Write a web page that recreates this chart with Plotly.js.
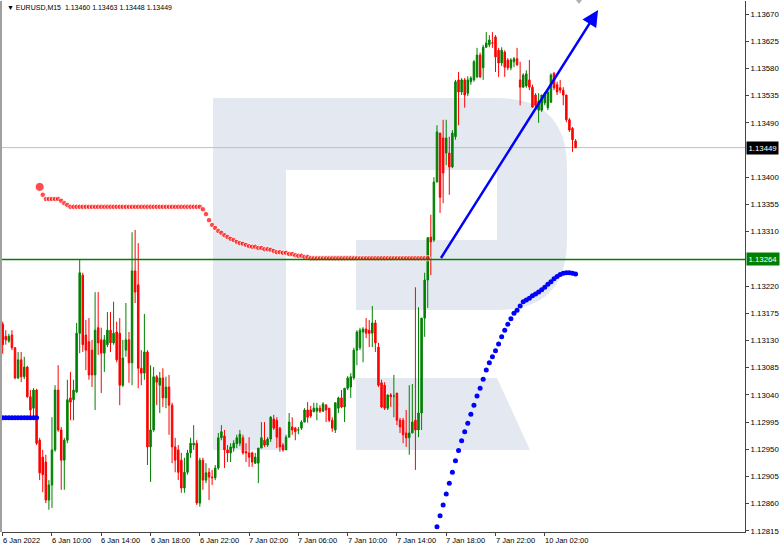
<!DOCTYPE html>
<html><head><meta charset="utf-8">
<script src="https://cdn.plot.ly/plotly-3.0.1.min.js"></script>
<style>html,body{margin:0;padding:0;background:#fff}#chart{width:782px;height:549px}</style>
</head><body><div id="chart"></div>
<script>
// ---- data ----
const open=[
1.13157,1.13137,1.13129,1.13139,1.13118,1.13068,1.13098,1.13070,1.13086,1.13037,
1.13018,1.13048,1.12965,1.12937,1.12929,1.12866,1.12891,1.12949,1.13048,1.12982,
1.12932,1.12965,1.13035,1.13032,1.13045,1.13142,1.13238,1.13139,1.13128,1.13114,
1.13073,1.13151,1.13131,1.13109,1.13123,1.13147,1.13126,1.13144,1.13142,1.13056,
1.13114,1.13131,1.13093,1.13245,1.13222,1.13084,1.13076,1.13111,1.12954,1.12982,
1.13070,1.13056,1.13068,1.13035,1.13053,1.13023,1.12954,1.12949,1.12932,1.12886,
1.12912,1.12944,1.12957,1.12960,1.12861,1.12932,1.12899,1.12912,1.12904,1.12903,
1.12919,1.12969,1.12972,1.12949,1.12944,1.12952,1.12959,1.12960,1.12969,1.12946,
1.12944,1.12944,1.12927,1.12927,1.12952,1.12965,1.12957,1.12967,1.13000,1.12998,
1.12985,1.12957,1.12949,1.12970,1.12987,1.12985,1.12982,1.12985,1.12995,1.13015,
1.13015,1.13012,1.13013,1.13018,1.13013,1.13023,1.13018,1.12998,1.12982,1.13018,
1.13035,1.13020,1.13051,1.13053,1.13068,1.13114,1.13118,1.13144,1.13149,1.13147,
1.13142,1.13159,1.13119,1.13060,1.13056,1.13018,1.13040,1.13038,1.13043,1.12998,
1.12998,1.12977,1.12969,1.12977,1.12998,1.12982,1.13010,1.13167,1.13230,1.13301,
1.13296,1.13392,1.13473,1.13465,1.13440,1.13440,1.13417,1.13467,1.13561,1.13541,
1.13561,1.13539,1.13558,1.13561,1.13566,1.13602,1.13581,1.13615,1.13619,1.13622,
1.13632,1.13610,1.13589,1.13607,1.13594,1.13581,1.13591,1.13596,1.13561,1.13549,
1.13551,1.13561,1.13549,1.13536,1.13511,1.13511,1.13523,1.13515,1.13524,1.13572,
1.13553,1.13548,1.13544,1.13536,1.13495,1.13481,1.13460];
const high=[
1.13161,1.13147,1.13141,1.13147,1.13119,1.13111,1.13111,1.13103,1.13088,1.13048,
1.13051,1.13050,1.12969,1.12949,1.12941,1.12899,1.13003,1.13056,1.13089,1.12987,
1.12969,1.13065,1.13078,1.13065,1.13159,1.13263,1.13242,1.13164,1.13167,1.13131,
1.13210,1.13210,1.13151,1.13139,1.13177,1.13177,1.13194,1.13161,1.13167,1.13131,
1.13192,1.13144,1.13309,1.13313,1.13291,1.13114,1.13174,1.13114,1.13089,1.13086,
1.13073,1.13078,1.13084,1.13070,1.13073,1.13027,1.12969,1.12957,1.12944,1.12936,
1.12949,1.12969,1.12990,1.12965,1.12936,1.12936,1.12927,1.12919,1.12916,1.12924,
1.12977,1.12990,1.12982,1.12957,1.12960,1.12965,1.12974,1.12982,1.12974,1.12960,
1.12970,1.12946,1.12944,1.12952,1.12995,1.12995,1.12970,1.13005,1.13007,1.13003,
1.12987,1.12960,1.12974,1.13010,1.13003,1.12987,1.12987,1.12998,1.13018,1.13028,
1.13022,1.13027,1.13027,1.13023,1.13028,1.13025,1.13018,1.13003,1.13027,1.13037,
1.13048,1.13051,1.13071,1.13076,1.13118,1.13147,1.13151,1.13152,1.13167,1.13164,
1.13187,1.13164,1.13126,1.13065,1.13061,1.13040,1.13043,1.13073,1.13043,1.13002,
1.13002,1.13015,1.13056,1.13058,1.13218,1.13185,1.13167,1.13242,1.13301,1.13338,
1.13400,1.13486,1.13473,1.13495,1.13495,1.13467,1.13478,1.13561,1.13574,1.13564,
1.13564,1.13567,1.13567,1.13594,1.13614,1.13606,1.13619,1.13640,1.13635,1.13640,
1.13635,1.13614,1.13615,1.13610,1.13597,1.13597,1.13599,1.13614,1.13591,1.13572,
1.13577,1.13594,1.13553,1.13539,1.13539,1.13536,1.13541,1.13544,1.13572,1.13574,
1.13558,1.13561,1.13549,1.13536,1.13498,1.13483,1.13463];
const low=[
1.13108,1.13123,1.13126,1.13114,1.13066,1.13066,1.13061,1.13066,1.13035,1.13005,
1.13003,1.12957,1.12899,1.12879,1.12861,1.12850,1.12853,1.12946,1.12979,1.12883,
1.12883,1.12960,1.12998,1.12998,1.13043,1.13109,1.13111,1.13081,1.13065,1.13053,
1.13015,1.13106,1.13043,1.13078,1.13119,1.13111,1.13123,1.13094,1.13023,1.13053,
1.13103,1.13060,1.13056,1.13192,1.13051,1.13056,1.13065,1.12924,1.12896,1.12979,
1.13023,1.13010,1.13020,1.13018,1.12974,1.12927,1.12912,1.12899,1.12878,1.12878,
1.12908,1.12936,1.12949,1.12858,1.12855,1.12883,1.12894,1.12866,1.12891,1.12899,
1.12916,1.12965,1.12919,1.12929,1.12929,1.12946,1.12952,1.12955,1.12941,1.12929,
1.12921,1.12921,1.12926,1.12894,1.12952,1.12954,1.12954,1.12962,1.12982,1.12952,
1.12946,1.12946,1.12949,1.12970,1.12974,1.12965,1.12975,1.12982,1.12995,1.12994,
1.13002,1.13012,1.12998,1.13010,1.13012,1.12995,1.12995,1.12979,1.12977,1.13010,
1.13018,1.12995,1.13048,1.13035,1.13065,1.13089,1.13114,1.13094,1.13134,1.13119,
1.13119,1.13111,1.13053,1.13018,1.13015,1.13015,1.13020,1.13003,1.12990,1.12977,
1.12960,1.12954,1.12941,1.12977,1.12916,1.12970,1.12982,1.13136,1.13184,1.13238,
1.13293,1.13392,1.13341,1.13357,1.13420,1.13371,1.13415,1.13462,1.13486,1.13536,
1.13515,1.13534,1.13553,1.13558,1.13564,1.13564,1.13561,1.13614,1.13615,1.13614,
1.13574,1.13566,1.13584,1.13566,1.13577,1.13577,1.13582,1.13584,1.13519,1.13548,
1.13548,1.13544,1.13515,1.13516,1.13490,1.13508,1.13519,1.13511,1.13523,1.13544,
1.13536,1.13539,1.13519,1.13491,1.13475,1.13442,1.13448];
const close=[
1.13123,1.13131,1.13137,1.13118,1.13068,1.13098,1.13070,1.13086,1.13037,1.13015,
1.13048,1.12960,1.12911,1.12908,1.12866,1.12891,1.12949,1.13048,1.12982,1.12932,
1.12965,1.13032,1.13028,1.13048,1.13142,1.13242,1.13123,1.13114,1.13073,1.13073,
1.13147,1.13126,1.13109,1.13131,1.13147,1.13126,1.13142,1.13098,1.13056,1.13101,
1.13131,1.13093,1.13245,1.13210,1.13084,1.13076,1.13111,1.12954,1.12982,1.13070,
1.13061,1.13068,1.13035,1.13053,1.13023,1.12954,1.12932,1.12912,1.12886,1.12912,
1.12944,1.12960,1.12960,1.12861,1.12932,1.12899,1.12911,1.12904,1.12903,1.12919,
1.12969,1.12979,1.12949,1.12944,1.12954,1.12960,1.12969,1.12975,1.12944,1.12944,
1.12937,1.12929,1.12937,1.12952,1.12969,1.12957,1.12967,1.13003,1.12985,1.12970,
1.12954,1.12949,1.12970,1.12995,1.12982,1.12979,1.12982,1.12995,1.13015,1.13003,
1.13005,1.13018,1.13018,1.13013,1.13025,1.13015,1.12998,1.12985,1.13027,1.13035,
1.13020,1.13051,1.13068,1.13070,1.13114,1.13144,1.13147,1.13149,1.13142,1.13142,
1.13159,1.13126,1.13056,1.13020,1.13018,1.13040,1.13037,1.13038,1.12998,1.12987,
1.12974,1.12969,1.12977,1.12995,1.12982,1.13010,1.13167,1.13230,1.13300,1.13293,
1.13392,1.13475,1.13367,1.13407,1.13465,1.13417,1.13473,1.13558,1.13541,1.13561,
1.13536,1.13561,1.13564,1.13591,1.13602,1.13566,1.13615,1.13622,1.13627,1.13622,
1.13599,1.13589,1.13610,1.13582,1.13581,1.13594,1.13596,1.13586,1.13549,1.13569,
1.13571,1.13549,1.13516,1.13519,1.13526,1.13536,1.13539,1.13541,1.13569,1.13548,
1.13541,1.13544,1.13536,1.13495,1.13478,1.13462,1.13449];

const tickIdx=[0,16,32,48,64,80,96,112,128,144,160,176];
const tickText=["6 Jan 2022","6 Jan 10:00","6 Jan 14:00","6 Jan 18:00","6 Jan 22:00","7 Jan 02:00","7 Jan 06:00","7 Jan 10:00","7 Jan 14:00","7 Jan 18:00","7 Jan 22:00","10 Jan 02:00"];
const yTicks=[1.13670,1.13625,1.13580,1.13535,1.13490,1.13400,1.13355,1.13310,1.13220,1.13175,1.13130,1.13085,1.13040,1.12995,1.12950,1.12905,1.12860,1.12815];

const sarBlueLeftStart=0;
const sarBlueLeft=[1.13002,1.13002,1.13002,1.13002,1.13002,1.13002,1.13002,1.13002,1.13002,1.13002,1.13002,1.13002];
const sarRedStart=12;
const sarRed=[1.13384,1.13371,1.13364,1.13364,1.13364,1.13364,1.13364,1.13361,1.13357,1.13354,
1.13351,1.13351,1.13351,1.13351,1.13351,1.13351,1.13351,1.13351,1.13351,1.13351,
1.13351,1.13351,1.13351,1.13351,1.13351,1.13351,1.13351,1.13351,1.13351,1.13351,
1.13351,1.13351,1.13351,1.13351,1.13351,1.13351,1.13351,1.13351,1.13351,1.13351,
1.13351,1.13351,1.13351,1.13351,1.13351,1.13351,1.13351,1.13351,1.13351,1.13351,
1.13351,1.13351,1.13351,
1.13347,1.13339,1.13329,1.13321,1.13316,1.13311,1.13308,1.13304,1.13301,1.13298,
1.13296,1.13293,1.13291,1.13290,1.13288,1.13286,1.13285,1.13285,1.13283,1.13283,
1.13281,1.13281,1.13280,1.13278,1.13276,1.13276,1.13275,1.13275,1.13273,1.13273,
1.13271,1.13270,1.13270,1.13268,1.13268,
1.13266,1.13266,1.13266,1.13266,1.13266,1.13266,1.13266,1.13266,1.13266,1.13266,
1.13266,1.13266,1.13266,1.13266,1.13266,1.13266,1.13266,1.13266,1.13266,1.13266,
1.13266,1.13266,1.13266,1.13266,1.13266,1.13266,1.13266,1.13266,1.13266,1.13266,
1.13266,1.13266,1.13266,1.13266,1.13266,1.13266,1.13266,1.13266,1.13266];
const sarBlueRightStart=141;
const sarBlueRight=[1.12822,1.12840,1.12858,1.12876,1.12894,1.12912,1.12931,1.12948,1.12964,1.12979,
1.12993,1.13008,1.13023,1.13038,1.13051,1.13066,1.13081,1.13093,1.13103,1.13113,
1.13124,1.13136,1.13147,1.13157,1.13166,1.13175,1.13180,1.13187,1.13194,1.13197,
1.13200,1.13204,1.13207,1.13210,1.13214,1.13218,1.13223,1.13227,1.13232,1.13236,
1.13239,1.13241,1.13242,1.13242,1.13241,1.13240];

const lastPrice=1.13449, levelPrice=1.13264;
const headerText="▼ EURUSD,M15  1.13460 1.13463 1.13448 1.13449";
const trendFrom={i:142, p:1.13264}, trendTo={i:193.3, p:1.136766};

// ---- layout geometry ----
const W=782,H=549,M={l:2,r:37,t:1,b:17};
const PW=W-M.l-M.r, PH=H-M.t-M.b;
function P(x,y){return ((x-M.l)/PW).toFixed(5)+','+((H-M.b-y)/PH).toFixed(5);}
const wm='#e4e9f1';
const idx=open.map((_,i)=>i);
const seq=(s,a)=>a.map((_,k)=>s+k);

const traces=[
 {type:'candlestick',x:idx,open:open,high:high,low:low,close:close,
  increasing:{line:{color:'#008000',width:1},fillcolor:'#008000'},
  decreasing:{line:{color:'#ff0000',width:1},fillcolor:'#ff0000'},
  whiskerwidth:0,hoverinfo:'skip',showlegend:false},
 {type:'scatter',mode:'markers',x:seq(sarBlueLeftStart,sarBlueLeft),y:sarBlueLeft,
  marker:{color:'#0000ff',size:5},hoverinfo:'skip',showlegend:false},
 {type:'scatter',mode:'markers',x:seq(sarRedStart,sarRed),y:sarRed,
  marker:{color:'#ff0000',size:sarRed.map((_,k)=>k===0?9:5.5)},hoverinfo:'skip',showlegend:false},
 {type:'scatter',mode:'markers',x:seq(sarBlueRightStart,sarBlueRight),y:sarBlueRight,
  marker:{color:'#0000ff',size:5},hoverinfo:'skip',showlegend:false}
];

const shapes=[
 {type:'path',xref:'paper',yref:'paper',layer:'below',fillcolor:wm,line:{width:0},
  path:'M'+P(213,98)+' L'+P(286,98)+' L'+P(286,450)+' L'+P(213,450)+' Z'},
 {type:'path',xref:'paper',yref:'paper',layer:'below',fillcolor:wm,line:{width:0},
  path:'M'+P(213,98)+' L'+P(497,98)+' Q'+P(567,98)+' '+P(567,168)+' L'+P(567,240)+' Q'+P(567,310)+' '+P(497,310)+' L'+P(356,310)+' L'+P(356,240)+' L'+P(497,240)+' L'+P(497,170)+' L'+P(213,170)+' Z'},
 {type:'path',xref:'paper',yref:'paper',layer:'below',fillcolor:wm,line:{width:0},
  path:'M'+P(356,378)+' L'+P(497,378)+' L'+P(530,450)+' L'+P(356,450)+' Z'},
 {type:'line',xref:'paper',yref:'y',x0:0,x1:1,y0:lastPrice,y1:lastPrice,line:{color:'#c0c0c0',width:1},layer:'below'},
 {type:'line',xref:'paper',yref:'y',x0:0,x1:1,y0:levelPrice,y1:levelPrice,line:{color:'#008000',width:1.5}},
 {type:'rect',xref:'paper',yref:'paper',x0:-2/PW,x1:0,y0:0,y1:1,fillcolor:'#a0a0a0',line:{width:0}},
 {type:'path',xref:'paper',yref:'paper',fillcolor:'#b0b0b0',line:{width:0},
  path:'M'+P(576,0)+' L'+P(582,0)+' L'+P(579,4)+' Z'}
];

const font='Liberation Sans, Arial, sans-serif';
const annotations=[
 {xref:'paper',yref:'paper',x:0,y:1,xanchor:'left',yanchor:'top',xshift:3,yshift:-1,
  text:headerText,showarrow:false,font:{family:font,size:7,color:'#000'}},
 {xref:'x',yref:'y',x:trendTo.i,y:trendTo.p,axref:'x',ayref:'y',ax:trendFrom.i,ay:trendFrom.p,
  text:'',showarrow:true,arrowhead:2,arrowsize:1.3,arrowwidth:2.5,arrowcolor:'#0000ff',standoff:0},
 {xref:'paper',yref:'y',x:1,y:lastPrice,xanchor:'left',xshift:1,text:lastPrice.toFixed(5),showarrow:false,
  bgcolor:'#000000',borderpad:1.5,font:{family:font,size:7.8,color:'#ffffff'}},
 {xref:'paper',yref:'y',x:1,y:levelPrice,xanchor:'left',xshift:1,text:levelPrice.toFixed(5),showarrow:false,
  bgcolor:'#008000',borderpad:1.5,font:{family:font,size:7.8,color:'#ffffff'}}
];
tickIdx.forEach((t,k)=>annotations.push({xref:'x',yref:'paper',x:t,y:0,xanchor:'left',yanchor:'top',
  xshift:-2,yshift:-2,text:tickText[k],showarrow:false,font:{family:font,size:7.5,color:'#000'}}));

const layout={
 width:W,height:H,margin:M,paper_bgcolor:'#ffffff',plot_bgcolor:'#ffffff',showlegend:false,
 font:{family:font,size:7,color:'#000'},
 xaxis:{type:'linear',range:[-0.7/3.08,(W-M.r-2.7)/3.08],rangeslider:{visible:false},
  tickvals:tickIdx,showticklabels:false,ticks:'outside',ticklen:3,tickcolor:'#444',
  showline:true,linecolor:'#444',linewidth:1,showgrid:false,zeroline:false,fixedrange:true},
 yaxis:{side:'right',range:[1.128132,1.136915],tickvals:yTicks,ticktext:yTicks.map(v=>v.toFixed(5)),
  ticks:'outside',ticklen:3,tickcolor:'#444',showline:true,linecolor:'#444',linewidth:1,
  showgrid:false,zeroline:false,tickfont:{family:font,size:7.8,color:'#000'},automargin:false,fixedrange:true},
 shapes:shapes,annotations:annotations
};
Plotly.newPlot('chart',traces,layout,{displayModeBar:false,staticPlot:true});
</script></body></html>
